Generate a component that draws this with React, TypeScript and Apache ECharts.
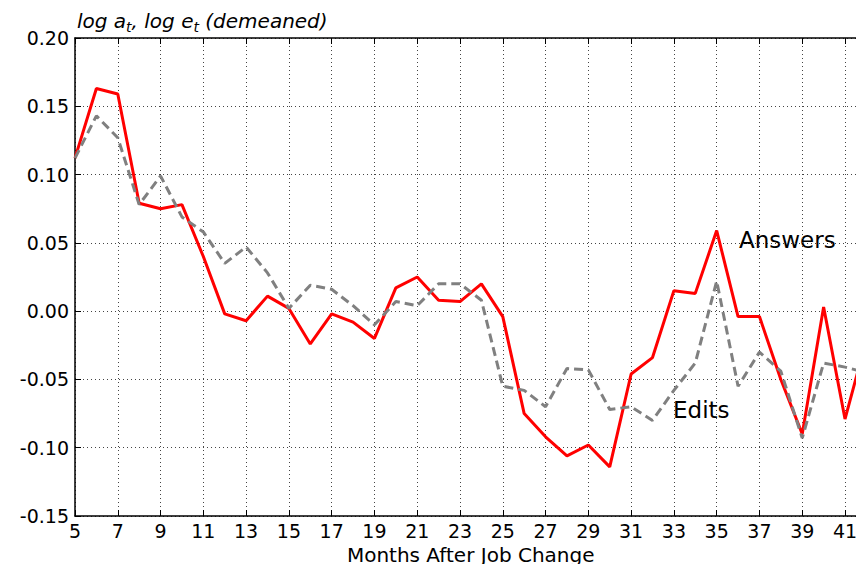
import React, { useEffect, useRef } from "react";
import * as echarts from "echarts";

const months = [5, 6, 7, 8, 9, 10, 11, 12, 13, 14, 15, 16, 17, 18, 19, 20, 21, 22, 23, 24, 25, 26, 27, 28, 29, 30, 31, 32, 33, 34, 35, 36, 37, 38, 39, 40, 41, 42];
const answers = [0.112, 0.163, 0.159, 0.079, 0.075, 0.078, 0.040, -0.002, -0.007, 0.011, 0.002, -0.024, -0.002, -0.008, -0.020, 0.017, 0.025, 0.008, 0.007, 0.020, -0.004, -0.075, -0.092, -0.106, -0.098, -0.114, -0.046, -0.034, 0.015, 0.013, 0.059, -0.004, -0.004, -0.050, -0.090, 0.003, -0.079, -0.021];
const edits = [0.112, 0.143, 0.127, 0.078, 0.099, 0.069, 0.058, 0.035, 0.047, 0.028, 0.002, 0.019, 0.016, 0.004, -0.010, 0.007, 0.004, 0.020, 0.020, 0.008, -0.055, -0.058, -0.070, -0.042, -0.043, -0.072, -0.070, -0.080, -0.058, -0.038, 0.022, -0.055, -0.030, -0.044, -0.093, -0.038, -0.041, -0.045];
const yTicks = { min: -0.15, max: 0.2, step: 0.05 };

const FONT = "DejaVu Sans";

export default function App() {
  const ref = useRef<HTMLDivElement>(null);
  useEffect(() => {
    if (!ref.current) return;
    const chart = echarts.init(ref.current, null, { renderer: "svg" });
    const cats = months.map(String);
    const axisLineStyle = { color: "#000", width: 1.5 };
    chart.setOption({
      animation: false,
      backgroundColor: "#fff",
      textStyle: { fontFamily: FONT },
      title: {
        left: 72,
        top: 0,
        text: "{i|log a}{s|t}{i|, log e}{s|t}{i| (demeaned)}",
        textStyle: {
          fontWeight: "normal",
          rich: {
            i: { fontFamily: FONT, fontStyle: "italic", fontWeight: "normal", fontSize: 20, color: "#000", lineHeight: 26, verticalAlign: "bottom" },
            s: { fontFamily: FONT, fontStyle: "italic", fontWeight: "normal", fontSize: 14, color: "#000", lineHeight: 18, verticalAlign: "bottom", padding: [0, 0, -3, 0] },
          },
        },
      },
      grid: { left: 75, top: 38, bottom: 48, right: -10.4, containLabel: false, outerBoundsMode: "none" },
      xAxis: [
        {
          type: "category",
          data: cats,
          boundaryGap: false,
          position: "bottom",
          axisLine: { onZero: false, lineStyle: axisLineStyle },
          axisTick: { inside: true, length: 6, interval: 1, lineStyle: { color: "#000", width: 1 } },
          axisLabel: { interval: 1, fontSize: 19, color: "#000", fontFamily: FONT, margin: 5 },
          splitLine: { show: true, interval: 1, lineStyle: { color: "#444", width: 1, type: [1, 3] } },
          name: "Months After Job Change",
          nameLocation: "middle",
          nameGap: 29,
          nameTextStyle: { fontSize: 20, color: "#000", fontFamily: FONT },
        },
        {
          type: "category",
          data: cats,
          boundaryGap: false,
          position: "top",
          axisLine: { onZero: false, lineStyle: axisLineStyle },
          axisTick: { inside: true, length: 6, interval: 1, lineStyle: { color: "#000", width: 1 } },
          axisLabel: { show: false },
          splitLine: { show: false },
        },
      ],
      yAxis: [
        {
          type: "value",
          min: yTicks.min,
          max: yTicks.max,
          interval: yTicks.step,
          position: "left",
          axisLine: { show: true, onZero: false, lineStyle: axisLineStyle },
          axisTick: { show: true, inside: true, length: 6, lineStyle: { color: "#000", width: 1 } },
          axisLabel: { fontSize: 19, color: "#000", fontFamily: FONT, margin: 6, formatter: (v: number) => v.toFixed(2) },
          splitLine: { show: true, lineStyle: { color: "#444", width: 1, type: [1, 3] } },
        },
      ],
      series: [
        {
          name: "Answers",
          type: "line",
          data: answers,
          showSymbol: false,
          lineStyle: { color: "#ff0000", width: 3 },
          z: 3,
        },
        {
          name: "Edits",
          type: "line",
          data: edits,
          showSymbol: false,
          lineStyle: { color: "#808080", width: 3, type: [9, 5] },
          z: 4,
        },
      ],
      graphic: [
        { type: "text", left: 739, top: 228, style: { text: "Answers", font: `23px "${FONT}"`, fill: "#000" } },
        { type: "text", left: 673, top: 398, style: { text: "Edits", font: `23px "${FONT}"`, fill: "#000" } },
      ],
    });
    return () => chart.dispose();
  }, []);
  return <div ref={ref} style={{ position: "fixed", left: 0, top: 0, width: 856, height: 564 }} />;
}
